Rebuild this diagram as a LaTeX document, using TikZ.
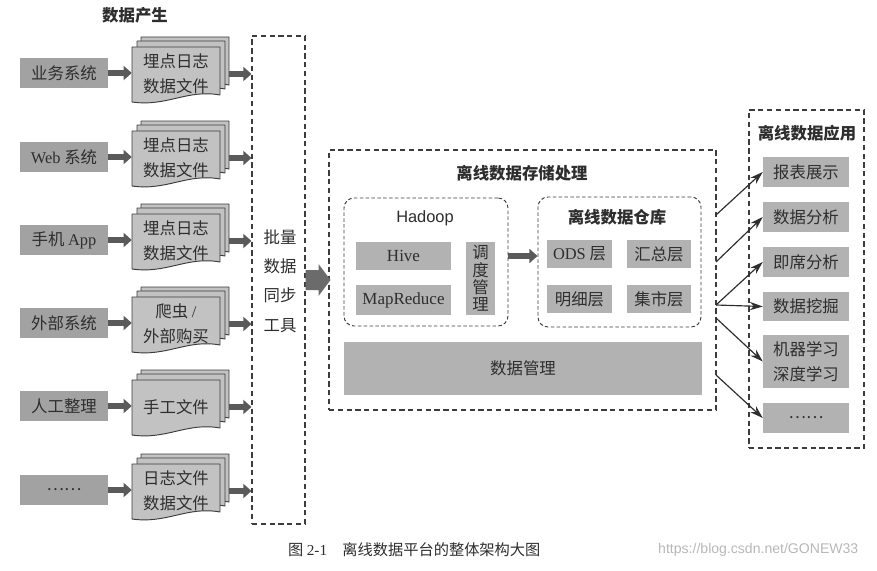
\documentclass[tikz,border=0pt]{standalone}
\usepackage{fontspec}
\setmainfont{Liberation Serif}
\newfontfamily\song{Noto Sans CJK SC}
\newfontfamily\hei{Noto Sans CJK SC}
\newfontfamily\arial{Liberation Sans}
\usetikzlibrary{arrows.meta}
\newcommand\pxl{0.3mm}
\newcommand\bodyfont{\fontsize{14pt}{21pt}\selectfont}
\definecolor{srcgray}{HTML}{A2A2A2}
\definecolor{docgray}{HTML}{C2C2C2}
\definecolor{boxgray}{HTML}{B2B2B2}
\definecolor{txt}{HTML}{2E2E2E}
\definecolor{arrowc}{HTML}{5A5A5A}
\definecolor{dashc}{HTML}{3C3C3C}
\tikzset{
  srcbox/.style={fill=srcgray, inner sep=0pt, minimum width=88*\pxl, minimum height=30*\pxl, text=txt, font=\song\bodyfont},
  graybox/.style={fill=boxgray, inner sep=0pt, text=txt, font=\song\bodyfont},
  doctext/.style={inner sep=0pt, minimum width=88*\pxl, minimum height=53*\pxl, align=center, text=txt, font=\song\bodyfont},
  docsheet/.style={fill=docgray, draw=dashc, line width=0.8pt, line join=round},
  dashbox/.style={draw=dashc, dash pattern=on 4.5pt off 3pt, line width=0.9pt, inner sep=0pt},
  rdashbox/.style={draw=dashc, dash pattern=on 3pt off 2pt, line width=0.8pt, inner sep=0pt, rounded corners=3mm},
  titletext/.style={text=txt, font=\hei\bfseries\fontsize{14pt}{16pt}\selectfont, inner sep=0pt},
  fatarrow/.style={draw=arrowc, line width=5pt, -{Triangle[length=7pt,width=12pt]}},
  thinarrow/.style={draw=txt, line width=1pt, -{Stealth[length=11pt,width=7pt]}},
}
\newcommand\docstack[4]{%
  \foreach \dx/\dy in {9/-10,5/-6,0/0}{%
    \pgfmathsetmacro\X{#2+\dx}\pgfmathsetmacro\Y{#3+\dy}%
    \draw[docsheet] (\X,\Y) -- ({\X+88},\Y) -- ({\X+88},{\Y+48})
      .. controls ({\X+55},{\Y+42}) and ({\X+35},{\Y+60}) .. (\X,{\Y+55}) -- cycle;
  }
  \node[doctext] (#1) at ({#2+44},{#3+27}) {#4};
}
\begin{document}
\begin{tikzpicture}[x=0.3mm,y=-0.3mm]
\fill[white] (0,0) rectangle (877,571);
\useasboundingbox (0,0) rectangle (877,571);

% title
\node[titletext] (t1) at (135,15) {数据产生};

% sources
\node[srcbox] (s1) at (64,73) {业务系统};
\node[srcbox] (s2) at (64,157) {{\rmfamily Web} 系统};
\node[srcbox] (s3) at (64,240) {手机 {\rmfamily App}};
\node[srcbox] (s4) at (64,323) {外部系统};
\node[srcbox] (s5) at (64,406) {人工整理};
\node[srcbox] (s6) at (64,490) {……};

% documents
\docstack{d1}{132}{47}{埋点日志\\数据文件}
\docstack{d2}{132}{131}{埋点日志\\数据文件}
\docstack{d3}{132}{214}{埋点日志\\数据文件}
\docstack{d4}{132}{297}{爬虫 {\rmfamily /}\\外部购买}
\docstack{d5}{132}{380}{手工文件}
\docstack{d6}{132}{464}{日志文件\\数据文件}

% sync box
\node[dashbox, minimum width=53*\pxl, minimum height=488*\pxl] (sync) at (278.5,280) {};
\node[align=center, text=txt, font=\song\fontsize{14pt}{25pt}\selectfont, inner sep=0pt] (synct) at (280,281) {批量\\数据\\同步\\工具};

\foreach \i in {1,...,6}{
  \draw[fatarrow] (s\i.east) -- (s\i.east -| d\i.west);
  \draw[fatarrow] ([xshift=9*\pxl]d\i.east) -- (d\i.east -| sync.west);
}

% storage box
\node[dashbox, minimum width=387*\pxl, minimum height=260*\pxl] (store) at (522.5,280) {};
\node[titletext] (storet) at (522,173) {离线数据存储处理};

% big arrow
\fill[arrowc!90] (sync.east) ++(0,-10) -- ++(13,0) -- ++(0,-6) -- ++(12,16) -- ++(-12,16) -- ++(0,-6) -- ++(-13,0) -- cycle;

% hadoop
\node[rdashbox, minimum width=164*\pxl, minimum height=128*\pxl] (hadoop) at (426,262) {};
\node[text=txt, font=\arial\fontsize{14pt}{16pt}\selectfont, inner sep=0pt] (hadoopt) at (425,218) {Hadoop};
\node[graybox, minimum width=95*\pxl, minimum height=28*\pxl, font=\rmfamily\fontsize{14.5pt}{16pt}\selectfont] (hive) at (403.5,256) {Hive};
\node[graybox, minimum width=95*\pxl, minimum height=30*\pxl, font=\rmfamily\fontsize{14.5pt}{16pt}\selectfont] (mr) at (403.5,300) {MapReduce};
\node[graybox, minimum width=29*\pxl, minimum height=73*\pxl, align=center, font=\song\fontsize{14pt}{14.8pt}\selectfont] (sched) at (480.5,278.5) {调\\度\\管\\理};

% warehouse
\node[rdashbox, minimum width=163*\pxl, minimum height=130*\pxl] (dw) at (619.5,262) {};
\node[titletext] (dwt) at (617,217) {离线数据仓库};
\node[graybox, minimum width=65*\pxl, minimum height=28*\pxl] (ods) at (579.5,254) {{\rmfamily ODS} 层};
\node[graybox, minimum width=64*\pxl, minimum height=28*\pxl] (hz) at (659,254) {汇总层};
\node[graybox, minimum width=65*\pxl, minimum height=28*\pxl] (mx) at (579.5,299) {明细层};
\node[graybox, minimum width=64*\pxl, minimum height=28*\pxl] (js) at (659,299) {集市层};

\draw[fatarrow] (hadoop.east |- hive.east) -- (dw.west |- hive.east);

% data management
\node[graybox, minimum width=358*\pxl, minimum height=53*\pxl] (dm) at (523,368.5) {数据管理};

% application box
\node[dashbox, minimum width=115*\pxl, minimum height=338*\pxl] (app) at (806.5,279) {};
\node[titletext] (appt) at (807,133) {离线数据应用};
\node[graybox, minimum width=86*\pxl, minimum height=30*\pxl] (r1) at (806,172) {报表展示};
\node[graybox, minimum width=86*\pxl, minimum height=30*\pxl] (r2) at (806,217) {数据分析};
\node[graybox, minimum width=86*\pxl, minimum height=30*\pxl] (r3) at (806,262) {即席分析};
\node[graybox, minimum width=86*\pxl, minimum height=29*\pxl] (r4) at (806,306.5) {数据挖掘};
\node[graybox, minimum width=86*\pxl, minimum height=53*\pxl, align=center] (r5) at (806,361.5) {机器学习\\深度学习};
\node[graybox, minimum width=86*\pxl, minimum height=30*\pxl] (r6) at (806,418) {……};

\coordinate (o1) at (716,215);
\coordinate (o2) at (716,262);
\coordinate (o3) at (716,305);
\coordinate (o4) at (716,305);
\coordinate (o5) at (716,318);
\coordinate (o6) at (716,375);
\foreach \i in {1,...,6}{
  \draw[thinarrow] (o\i) -- (r\i.west);
}

% caption
\node[anchor=west, text=txt, font=\song\fontsize{13pt}{15pt}\selectfont, inner sep=0pt] (cap) at (288,550) {图 {\rmfamily 2-1}\hspace{1em}离线数据平台的整体架构大图};
\node[anchor=west, text=black!28, font=\arial\fontsize{12pt}{14pt}\selectfont, inner sep=0pt] (wm) at (658,550) {https://blog.csdn.net/GONEW33};
\end{tikzpicture}
\end{document}
